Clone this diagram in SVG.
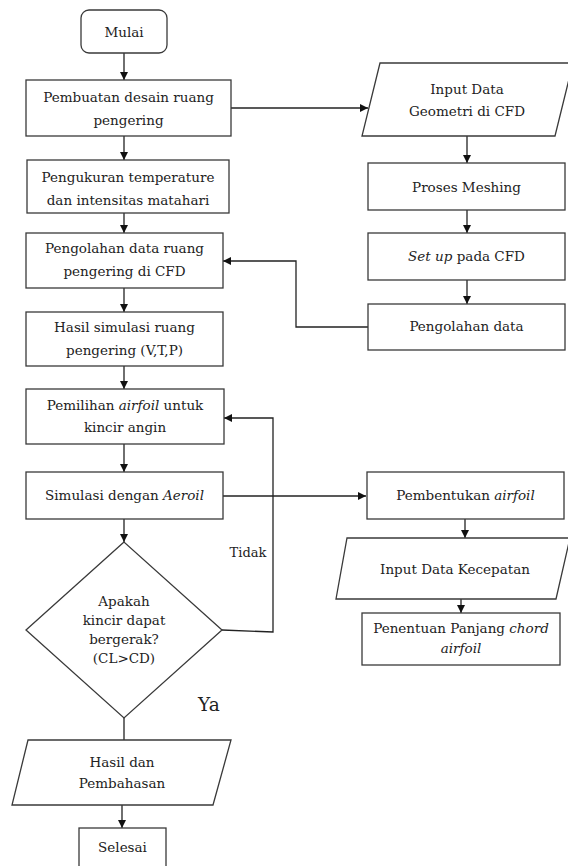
<svg xmlns="http://www.w3.org/2000/svg" width="568" height="866" viewBox="0 0 568 866">
<defs>
<marker id="arr" markerUnits="userSpaceOnUse" markerWidth="10" markerHeight="10" refX="8" refY="4" orient="auto">
<path d="M0,0 L8,4 L0,8 Z" fill="#111"/>
</marker>
<style>
.n{fill:#fff;stroke:#3a3a3a;stroke-width:1.3}
.t{font-family:'DejaVu Serif','Liberation Serif',serif;font-size:13.5px;fill:#222;text-anchor:middle}
.i{font-style:italic}
.c{fill:none;stroke:#222;stroke-width:1.3}
.ca{fill:none;stroke:#222;stroke-width:1.3;marker-end:url(#arr)}
</style>
</defs>
<rect width="568" height="866" fill="#fff"/>
<g id="connectors">
<path class="ca" d="M124 53V80"/>
<path class="ca" d="M124 136V160"/>
<path class="ca" d="M124 213V233"/>
<path class="ca" d="M124 288V312"/>
<path class="ca" d="M124 366V389"/>
<path class="ca" d="M124 444V472"/>
<path class="ca" d="M124 519V542"/>
<path class="c" d="M124 714V740"/>
<path class="ca" d="M122 805V828"/>
<path class="ca" d="M231 108H368"/>
<path class="ca" d="M467 136V163"/>
<path class="ca" d="M467 210V233"/>
<path class="ca" d="M467 280V304"/>
<path class="ca" d="M368 327H296V261H223"/>
<path class="ca" d="M223 496H366"/>
<path class="ca" d="M465 519V538"/>
<path class="ca" d="M461 598V613"/>
<path class="ca" d="M222 630L273 632V418H224"/>
</g>
<g id="mulai"><rect class="n" x="81" y="10" width="86" height="43" rx="8"/><text class="t" x="124" y="37">Mulai</text></g>
<g id="pembuatan"><rect class="n" x="26" y="80" width="205" height="56"/><text class="t" x="128.5" y="102">Pembuatan desain ruang</text><text class="t" x="128.5" y="125">pengering</text></g>
<g id="pengukuran"><rect class="n" x="27" y="160" width="202" height="53"/><text class="t" x="128" y="182">Pengukuran temperature</text><text class="t" x="128" y="205">dan intensitas  matahari</text></g>
<g id="pengolahan-cfd"><rect class="n" x="26" y="233" width="197" height="55"/><text class="t" x="124.5" y="253">Pengolahan data ruang</text><text class="t" x="124.5" y="276">pengering di CFD</text></g>
<g id="hasil-simulasi"><rect class="n" x="26" y="312" width="197" height="54"/><text class="t" x="124.5" y="332">Hasil simulasi ruang</text><text class="t" x="124.5" y="355">pengering (V,T,P)</text></g>
<g id="pemilihan"><rect class="n" x="26" y="389" width="198" height="55"/><text class="t" x="125" y="410">Pemilihan <tspan class="i">airfoil</tspan> untuk</text><text class="t" x="125" y="432">kincir angin</text></g>
<g id="simulasi"><rect class="n" x="26" y="472" width="197" height="47"/><text class="t" x="124.5" y="500">Simulasi dengan <tspan class="i">Aeroil</tspan></text></g>
<g id="keputusan"><polygon class="n" points="124,542 26,630 124,718 222,630"/><text class="t" x="124" y="606">Apakah</text><text class="t" x="124" y="625">kincir dapat</text><text class="t" x="124" y="644">bergerak?</text><text class="t" x="124" y="663">(CL&gt;CD)</text></g>
<g id="label-tidak"><text class="t" x="248" y="557" style="font-size:13px">Tidak</text></g>
<g id="label-ya"><text class="t" x="209" y="711" style="font-size:18.5px">Ya</text></g>
<g id="hasil-pembahasan"><polygon class="n" points="28,740 231,740 213,805 12,805"/><text class="t" x="122" y="767">Hasil dan</text><text class="t" x="122" y="788">Pembahasan</text></g>
<g id="selesai"><rect class="n" x="79" y="828" width="87" height="50"/><text class="t" x="122.5" y="852">Selesai</text></g>
<g id="input-geometri"><polygon class="n" points="380,63 573,63 555,136 362,136"/><text class="t" x="467" y="94">Input Data</text><text class="t" x="467" y="116">Geometri di CFD</text></g>
<g id="meshing"><rect class="n" x="368" y="163" width="197" height="47"/><text class="t" x="466.5" y="192">Proses Meshing</text></g>
<g id="setup"><rect class="n" x="368" y="233" width="197" height="47"/><text class="t" x="466.5" y="261"><tspan class="i">Set up</tspan> pada CFD</text></g>
<g id="pengolahan-data"><rect class="n" x="368" y="304" width="197" height="46"/><text class="t" x="466.5" y="331">Pengolahan data</text></g>
<g id="pembentukan"><rect class="n" x="367" y="472" width="197" height="47"/><text class="t" x="465.5" y="500">Pembentukan <tspan class="i">airfoil</tspan></text></g>
<g id="input-kecepatan"><polygon class="n" points="347,538 570,538 556,599 336,599"/><text class="t" x="455" y="574">Input Data Kecepatan</text></g>
<g id="penentuan"><rect class="n" x="362" y="613" width="198" height="52"/><text class="t" x="461" y="633">Penentuan Panjang <tspan class="i">chord</tspan></text><text class="t i" x="461" y="653">airfoil</text></g>
</svg>
